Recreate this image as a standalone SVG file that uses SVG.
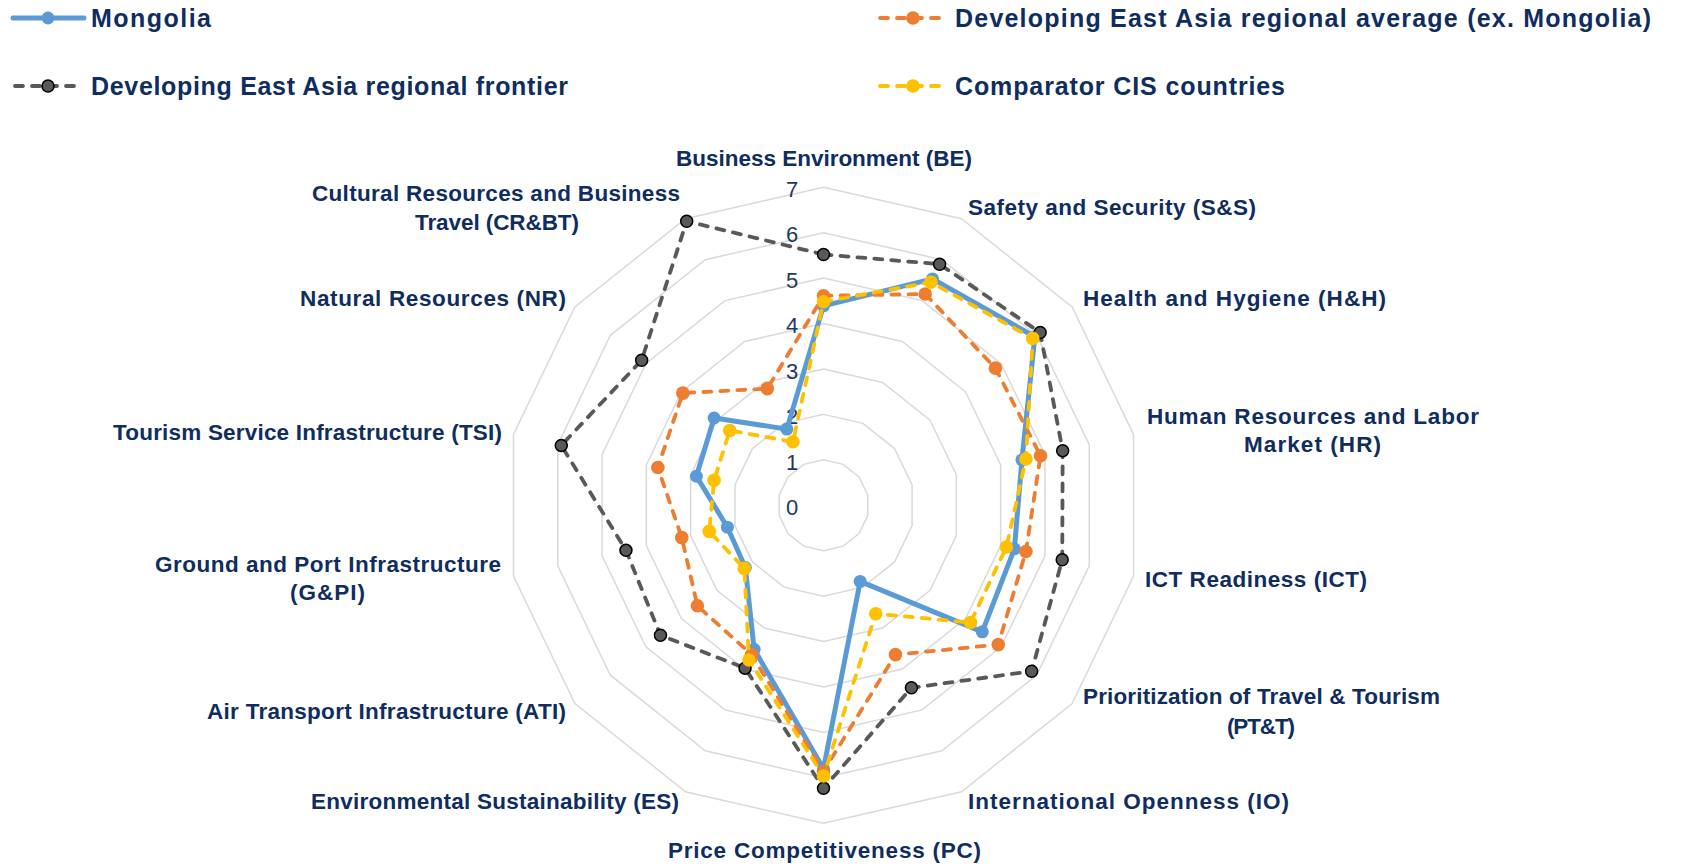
<svg xmlns="http://www.w3.org/2000/svg" width="1681" height="864" viewBox="0 0 1681 864">
<style>
.lbl{font-family:"Liberation Sans",Arial,sans-serif;font-weight:bold;font-size:22.5px;fill:#0F2D5E}
.leg{font-family:"Liberation Sans",Arial,sans-serif;font-weight:bold;font-size:25px;fill:#0F2D5E}
.tick{font-family:"Liberation Sans",Arial,sans-serif;font-size:22px;fill:#1F3864;text-anchor:middle}
.ring{fill:none;stroke:#D9D9D9;stroke-width:1.5}
.mon{fill:none;stroke:#5B9BD5;stroke-width:5;stroke-linejoin:round}
.avg{fill:none;stroke:#ED7D31;stroke-width:3.8;stroke-dasharray:8 9;stroke-linecap:round}
.fro{fill:none;stroke:#595959;stroke-width:3.8;stroke-dasharray:8 9;stroke-linecap:round}
.cis{fill:none;stroke:#FFC000;stroke-width:3.8;stroke-dasharray:8 9;stroke-linecap:round}
.mmon{fill:#5B9BD5}
.mavg{fill:#ED7D31}
.mfro{fill:#595959;stroke:#000;stroke-width:1.5}
.mcis{fill:#FFC000}
</style>
<rect width="1681" height="864" fill="#fff"/>
<g id="grid">
<polygon class="ring" vector-effect="non-scaling-stroke" transform="translate(823.5 505.25) scale(45.43)" points="0,-1 0.43388,-0.90097 0.78183,-0.62349 0.97493,-0.22252 0.97493,0.22252 0.78183,0.62349 0.43388,0.90097 0,1 -0.43388,0.90097 -0.78183,0.62349 -0.97493,0.22252 -0.97493,-0.22252 -0.78183,-0.62349 -0.43388,-0.90097"/>
<polygon class="ring" vector-effect="non-scaling-stroke" transform="translate(823.5 505.25) scale(90.86)" points="0,-1 0.43388,-0.90097 0.78183,-0.62349 0.97493,-0.22252 0.97493,0.22252 0.78183,0.62349 0.43388,0.90097 0,1 -0.43388,0.90097 -0.78183,0.62349 -0.97493,0.22252 -0.97493,-0.22252 -0.78183,-0.62349 -0.43388,-0.90097"/>
<polygon class="ring" vector-effect="non-scaling-stroke" transform="translate(823.5 505.25) scale(136.29)" points="0,-1 0.43388,-0.90097 0.78183,-0.62349 0.97493,-0.22252 0.97493,0.22252 0.78183,0.62349 0.43388,0.90097 0,1 -0.43388,0.90097 -0.78183,0.62349 -0.97493,0.22252 -0.97493,-0.22252 -0.78183,-0.62349 -0.43388,-0.90097"/>
<polygon class="ring" vector-effect="non-scaling-stroke" transform="translate(823.5 505.25) scale(181.72)" points="0,-1 0.43388,-0.90097 0.78183,-0.62349 0.97493,-0.22252 0.97493,0.22252 0.78183,0.62349 0.43388,0.90097 0,1 -0.43388,0.90097 -0.78183,0.62349 -0.97493,0.22252 -0.97493,-0.22252 -0.78183,-0.62349 -0.43388,-0.90097"/>
<polygon class="ring" vector-effect="non-scaling-stroke" transform="translate(823.5 505.25) scale(227.15)" points="0,-1 0.43388,-0.90097 0.78183,-0.62349 0.97493,-0.22252 0.97493,0.22252 0.78183,0.62349 0.43388,0.90097 0,1 -0.43388,0.90097 -0.78183,0.62349 -0.97493,0.22252 -0.97493,-0.22252 -0.78183,-0.62349 -0.43388,-0.90097"/>
<polygon class="ring" vector-effect="non-scaling-stroke" transform="translate(823.5 505.25) scale(272.58)" points="0,-1 0.43388,-0.90097 0.78183,-0.62349 0.97493,-0.22252 0.97493,0.22252 0.78183,0.62349 0.43388,0.90097 0,1 -0.43388,0.90097 -0.78183,0.62349 -0.97493,0.22252 -0.97493,-0.22252 -0.78183,-0.62349 -0.43388,-0.90097"/>
<polygon class="ring" vector-effect="non-scaling-stroke" transform="translate(823.5 505.25) scale(318)" points="0,-1 0.43388,-0.90097 0.78183,-0.62349 0.97493,-0.22252 0.97493,0.22252 0.78183,0.62349 0.43388,0.90097 0,1 -0.43388,0.90097 -0.78183,0.62349 -0.97493,0.22252 -0.97493,-0.22252 -0.78183,-0.62349 -0.43388,-0.90097"/>
</g>
<g id="ticks">
<text class="tick" x="792" y="515">0</text>
<text class="tick" x="792" y="470">1</text>
<text class="tick" x="792" y="424">2</text>
<text class="tick" x="792" y="379">3</text>
<text class="tick" x="792" y="333">4</text>
<text class="tick" x="792" y="288">5</text>
<text class="tick" x="792" y="242">6</text>
<text class="tick" x="792" y="197">7</text>
</g>
<g id="connectors">
<polygon id="line-mongolia" class="mon" points="823.5,305.81 932.5,278.9 1034.84,336.72 1021.93,459.96 1014.39,548.82 982.27,631.86 860.16,581.38 823.5,768.74 754.12,649.32 745.36,567.57 727.39,527.19 696.39,476.24 714.11,418.01 786.84,429.12"/>
<g class="mmon">
<circle cx="823.5" cy="305.81" r="6.5"/><circle cx="932.5" cy="278.9" r="6.5"/><circle cx="1034.84" cy="336.72" r="6.5"/><circle cx="1021.93" cy="459.96" r="6.5"/><circle cx="1014.39" cy="548.82" r="6.5"/><circle cx="982.27" cy="631.86" r="6.5"/><circle cx="860.16" cy="581.38" r="6.5"/><circle cx="823.5" cy="768.74" r="6.5"/><circle cx="754.12" cy="649.32" r="6.5"/><circle cx="745.36" cy="567.57" r="6.5"/><circle cx="727.39" cy="527.19" r="6.5"/><circle cx="696.39" cy="476.24" r="6.5"/><circle cx="714.11" cy="418.01" r="6.5"/><circle cx="786.84" cy="429.12" r="6.5"/>
</g>
<polygon id="line-average" class="avg" points="823.5,295.82 925.21,294.05 995.41,368.16 1040.53,455.71 1025.92,551.45 998.25,644.61 895.45,654.65 823.5,771.47 751.55,654.65 697.41,605.81 681.77,537.6 657.85,467.44 682.85,393.08 767.32,388.59"/>
<g class="mavg">
<circle cx="823.5" cy="295.82" r="6.8"/><circle cx="925.21" cy="294.05" r="6.8"/><circle cx="995.41" cy="368.16" r="6.8"/><circle cx="1040.53" cy="455.71" r="6.8"/><circle cx="1025.92" cy="551.45" r="6.8"/><circle cx="998.25" cy="644.61" r="6.8"/><circle cx="895.45" cy="654.65" r="6.8"/><circle cx="823.5" cy="771.47" r="6.8"/><circle cx="751.55" cy="654.65" r="6.8"/><circle cx="697.41" cy="605.81" r="6.8"/><circle cx="681.77" cy="537.6" r="6.8"/><circle cx="657.85" cy="467.44" r="6.8"/><circle cx="682.85" cy="393.08" r="6.8"/><circle cx="767.32" cy="388.59" r="6.8"/>
</g>
<polygon id="line-frontier" class="fro" points="823.5,254.48 939.6,264.17 1040.16,332.47 1062.67,450.66 1062.23,559.74 1031.64,671.24 911.41,687.8 823.5,788.28 745.05,668.15 660.47,635.26 625.96,550.34 561.29,445.4 641.65,360.23 686.7,221.19"/>
<g class="mfro">
<circle cx="823.5" cy="254.48" r="6"/><circle cx="939.6" cy="264.17" r="6"/><circle cx="1040.16" cy="332.47" r="6"/><circle cx="1062.67" cy="450.66" r="6"/><circle cx="1062.23" cy="559.74" r="6"/><circle cx="1031.64" cy="671.24" r="6"/><circle cx="911.41" cy="687.8" r="6"/><circle cx="823.5" cy="788.28" r="6"/><circle cx="745.05" cy="668.15" r="6"/><circle cx="660.47" cy="635.26" r="6"/><circle cx="625.96" cy="550.34" r="6"/><circle cx="561.29" cy="445.4" r="6"/><circle cx="641.65" cy="360.23" r="6"/><circle cx="686.7" cy="221.19" r="6"/>
</g>
<polygon id="line-cis" class="cis" points="823.5,301.72 930.92,282.18 1032.7,338.42 1025.92,459.05 1006.43,547 970.55,622.52 875.73,613.72 823.5,776.01 748.99,659.97 744.29,568.42 709.23,531.33 714.1,480.28 729.73,430.47 792.95,441.8"/>
<g class="mcis">
<circle cx="823.5" cy="301.72" r="6.8"/><circle cx="930.92" cy="282.18" r="6.8"/><circle cx="1032.7" cy="338.42" r="6.8"/><circle cx="1025.92" cy="459.05" r="6.8"/><circle cx="1006.43" cy="547" r="6.8"/><circle cx="970.55" cy="622.52" r="6.8"/><circle cx="875.73" cy="613.72" r="6.8"/><circle cx="823.5" cy="776.01" r="6.8"/><circle cx="748.99" cy="659.97" r="6.8"/><circle cx="744.29" cy="568.42" r="6.8"/><circle cx="709.23" cy="531.33" r="6.8"/><circle cx="714.1" cy="480.28" r="6.8"/><circle cx="729.73" cy="430.47" r="6.8"/><circle cx="792.95" cy="441.8" r="6.8"/>
</g>
</g>
<g id="axis-labels">
<g id="lbl-be"><text class="lbl" x="676" y="166" textLength="296">Business Environment (BE)</text></g>
<g id="lbl-ss"><text class="lbl" x="968" y="215" textLength="288">Safety and Security (S&amp;S)</text></g>
<g id="lbl-hh"><text class="lbl" x="1083" y="306" textLength="303">Health and Hygiene (H&amp;H)</text></g>
<g id="lbl-hr"><text class="lbl" x="1147" y="424" textLength="332">Human Resources and Labor</text><text class="lbl" x="1244" y="452" textLength="137">Market (HR)</text></g>
<g id="lbl-ict"><text class="lbl" x="1145" y="587" textLength="222">ICT Readiness (ICT)</text></g>
<g id="lbl-ptt"><text class="lbl" x="1083" y="704" textLength="357">Prioritization of Travel &amp; Tourism</text><text class="lbl" x="1227" y="734" textLength="68">(PT&amp;T)</text></g>
<g id="lbl-io"><text class="lbl" x="968" y="809" textLength="321">International Openness (IO)</text></g>
<g id="lbl-pc"><text class="lbl" x="668" y="858" textLength="313">Price Competitiveness (PC)</text></g>
<g id="lbl-es"><text class="lbl" x="311" y="809" textLength="368">Environmental Sustainability (ES)</text></g>
<g id="lbl-ati"><text class="lbl" x="207" y="719" textLength="359">Air Transport Infrastructure (ATI)</text></g>
<g id="lbl-gpi"><text class="lbl" x="155" y="572" textLength="346">Ground and Port Infrastructure</text><text class="lbl" x="290" y="600" textLength="75">(G&amp;PI)</text></g>
<g id="lbl-tsi"><text class="lbl" x="113" y="440" textLength="389">Tourism Service Infrastructure (TSI)</text></g>
<g id="lbl-nr"><text class="lbl" x="300" y="306" textLength="266">Natural Resources (NR)</text></g>
<g id="lbl-crbt"><text class="lbl" x="312" y="201" textLength="368">Cultural Resources and Business</text><text class="lbl" x="415" y="230" textLength="164">Travel (CR&amp;BT)</text></g>
</g>
<g id="legend">
<g id="leg-mongolia"><line x1="13" y1="18" x2="84" y2="18" stroke="#5B9BD5" stroke-width="5" stroke-linecap="round"/><circle class="mmon" cx="48" cy="18" r="6.5"/><text class="leg" x="91" y="27" textLength="120">Mongolia</text></g>
<g id="leg-average"><line x1="880" y1="18" x2="945" y2="18" class="avg"/><circle class="mavg" cx="913" cy="18" r="6.8"/><text class="leg" x="955" y="27" textLength="696">Developing East Asia regional average (ex. Mongolia)</text></g>
<g id="leg-frontier"><line x1="15" y1="86" x2="81" y2="86" class="fro"/><circle class="mfro" cx="48" cy="86" r="6"/><text class="leg" x="91" y="95" textLength="477">Developing East Asia regional frontier</text></g>
<g id="leg-cis"><line x1="880" y1="86" x2="945" y2="86" class="cis"/><circle class="mcis" cx="913" cy="86" r="6.8"/><text class="leg" x="955" y="95" textLength="330">Comparator CIS countries</text></g>
</g>
</svg>
